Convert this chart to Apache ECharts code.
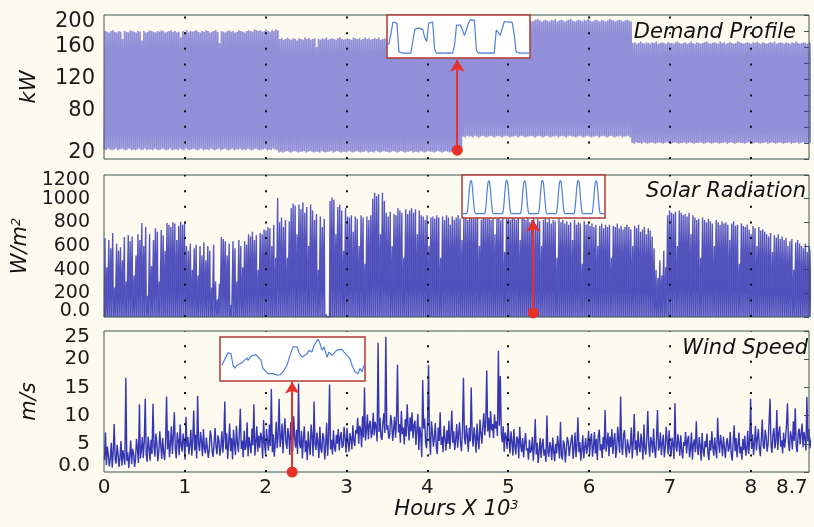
<!DOCTYPE html>
<html><head><meta charset="utf-8">
<script src="https://cdn.jsdelivr.net/npm/echarts@6/dist/echarts.min.js"></script>
<style>html,body{margin:0;padding:0;background:#fdfbf0}#c{width:814px;height:527px}</style>
</head><body><div id="c"></div>
<script>
// ---------- data ----------
// x axis: hours; tick labels shown in thousands
const xTickValues = [0,1000,2000,3000,4000,5000,6000,7000,8000,8700];
const demandTicks = [20,80,120,160,200];
const solarTicks = [0,200,400,600,800,1000,1200];
const windTicks = [0,5,10,15,20,25];

// daily peak demand (kW), one per day
const demandHigh = [
180,179,178,180,181,179,178,180,179,170,180,179,178,181,180,179,178,180,179,168,
180,178,179,181,180,179,178,180,179,181,180,178,179,180,181,179,180,178,179,172,
180,179,181,178,180,179,180,181,179,178,180,179,181,180,178,179,180,181,179,165,
180,179,178,180,181,179,180,178,179,181,180,179,178,180,181,180,179,182,181,180,
181,179,180,182,180,179,181,180,182,181,
170,171,169,170,172,170,169,171,170,168,171,170,169,172,170,171,169,170,171,160,
170,169,171,170,172,169,170,171,170,169,171,172,170,169,170,171,170,169,172,171,
170,171,169,170,172,170,171,169,170,171,170,172,169,170,171,170,169,171,170,172,
171,170,169,171,170,172,170,169,171,170,170,171,169,172,170,171,170,169,171,170,
171,170,172,169,170,171,170,169,171,170,172,170,169,171,170,
193,194,192,193,195,193,192,194,193,192,194,193,195,192,193,194,193,192,194,193,
193,192,194,195,193,192,193,194,192,193,195,193,192,194,193,192,193,194,195,193,
192,193,194,193,192,194,193,195,192,193,194,193,192,193,194,195,193,192,193,194,
193,192,194,193,195,193,192,193,194,193,192,194,193,192,193,195,194,193,192,193,
194,193,192,193,194,193,192,
165,166,164,165,167,165,164,166,165,164,166,165,167,164,165,166,165,164,166,165,
165,164,166,167,165,164,165,166,164,165,167,165,164,166,165,164,165,166,167,165,
164,165,166,165,164,167,165,166,164,165,166,165,164,165,167,166,165,164,165,166,
165,164,166,165,167,165,164,166,165,164,165,166,165,167,164,165,166,165,164,166,
165,164,166,165,167,165,164,165,166,165,164,166,165];
// daily night-time demand (kW)
const demandLow = [
32,31,33,32,31,32,33,31,32,33,32,31,32,33,31,32,31,32,33,31,
32,33,31,32,32,31,33,32,31,32,33,32,31,32,33,31,32,32,31,33,
32,31,33,32,31,32,33,32,31,32,33,31,32,32,31,33,32,31,32,33,
31,32,33,32,31,32,33,31,32,32,33,31,32,31,33,32,31,32,33,32,
31,32,32,33,31,32,31,33,32,31,
28,29,28,29,30,29,28,29,30,29,28,29,29,30,28,29,30,29,28,29,
29,28,30,29,28,29,29,30,28,29,30,29,28,29,29,28,30,29,28,29,
30,29,28,29,29,30,28,29,29,28,30,29,28,29,30,29,29,28,29,30,
29,28,29,30,29,28,29,29,30,28,29,29,28,30,29,28,29,30,29,29,
28,29,30,29,28,29,30,29,28,29,29,30,28,29,29,
48,47,49,48,48,47,49,48,47,48,49,48,47,48,49,48,47,48,49,48,
47,48,49,48,47,48,48,49,47,48,49,48,47,48,48,49,48,47,48,49,
48,47,48,49,48,47,48,48,49,47,48,49,48,47,48,49,48,48,47,48,
49,48,47,48,49,48,47,48,48,49,47,48,49,48,47,48,49,48,47,48,
48,49,47,48,48,49,47,
40,39,41,40,40,39,41,40,39,40,41,40,39,40,41,40,39,40,41,40,
39,40,41,40,39,40,40,41,39,40,41,40,39,40,40,41,40,39,40,41,
40,39,40,41,40,39,40,40,41,39,40,41,40,39,40,41,40,40,39,40,
41,40,39,40,41,40,39,40,40,41,39,40,41,40,39,40,41,40,39,40,
40,41,39,40,40,41,39,40,41,40,39,40,40];

// daily peak solar radiation (W/m2)
const solarPeak = [
668,420,650,580,710,250,620,560,590,480, 676,300,693,640,680,350,520,700,650,795,
600,760,180,700,430,650,750,720,300,735, 690,560,795,780,760,800,790,650,770,805,
780,795,600,560,620,400,580,610,350,600, 520,630,480,600,560,250,610,300,150,280,
676,660,640,520,620,100,640,580,300,650, 600,420,640,610,700,680,720,650,690,400,
710,700,740,730,760,750,600,780,500,1006, 800,840,760,820,500,810,920,960,940,700,
950,910,970,880,930,600,950,900,820,870, 400,850,760,830,20,10,980,1010,990,700,
930,950,900,560,920,850,840,860,720,850, 830,600,860,840,450,850,820,860,1000,1050,
1020,1040,700,1050,980,880,850,890,600,870, 860,920,900,880,500,910,870,900,920,880,
910,700,900,860,850,820,860,600,840,850, 830,860,840,500,850,820,860,840,780,850,
820,840,860,830,650,850,840,820,860,840, 830,850,840,600,820,850,840,830,860,820,
840,700,830,850,820,840,550,830,850,820, 840,830,820,850,650,840,830,820,840,800,
820,840,780,830,810,600,820,840,800,830, 790,820,810,500,830,800,820,790,810,780,
800,650,820,780,800,790,450,810,780,790, 770,790,760,780,600,770,790,750,780,760,
780,500,770,760,790,750,770,740,760,780, 760,740,600,770,750,780,720,740,760,700,
750,730,680,580,400,330,480,350,560,420, 860,900,880,870,890,600,900,880,860,870,
850,880,700,860,840,820,830,500,840,820, 800,830,810,790,600,820,800,780,810,790,
800,780,650,790,810,770,780,450,790,770, 760,780,740,700,770,750,600,760,730,740,
720,700,680,710,550,690,670,700,660,680, 650,670,600,640,660,400,630,650,620,600,
580,620,550,600,570];

// wind speed (m/s), two readings per day
const windSpeed = [
2.1,7.0,1.2,4.5,3.0,1.0,2.4,5.2,0.8,3.6,8.5,2.2,1.5,4.8,3.2,0.9,2.6,5.5,1.1,3.9,
4.2,1.3,16.7,2.0,3.5,0.7,2.8,5.6,1.4,4.1,3.3,0.9,2.2,5.9,4.0,1.6,12.0,2.4,3.8,6.2,
2.5,5.4,13.0,3.1,1.8,6.3,4.4,2.0,5.7,3.2,12.1,4.6,2.7,6.8,5.1,1.9,3.6,7.2,4.8,2.3,
6.0,3.4,2.1,5.5,13.4,4.0,7.3,2.6,5.0,8.1,3.2,6.4,10.6,4.1,2.4,7.0,5.6,3.0,8.4,4.7,
3.6,6.8,5.1,2.2,9.8,4.5,6.2,3.1,4.8,7.5,2.9,5.8,10.9,3.8,6.6,2.4,13.5,5.0,3.7,7.1,
5.4,2.8,7.6,4.2,3.3,6.1,5.8,2.5,4.0,7.4,6.3,3.6,2.7,5.2,7.8,4.4,3.1,6.5,5.5,2.9,
4.6,7.2,3.4,5.9,12.5,4.0,6.8,2.3,5.1,8.6,3.7,6.0,2.2,7.5,4.9,3.0,8.2,5.3,3.5,6.7,
11.2,4.1,5.6,2.6,7.3,3.9,4.5,8.8,2.8,6.2,5.9,3.3,7.7,4.7,12.0,2.9,5.2,8.1,3.6,6.4,
4.3,7.0,6.1,2.4,9.2,5.0,3.1,7.6,5.5,3.8,8.4,4.6,14.7,3.5,6.7,2.7,5.0,8.9,4.2,6.5,
13.0,4.4,6.0,8.6,3.3,7.1,9.5,5.2,4.1,7.8,6.4,3.0,8.8,5.6,3.7,9.9,6.2,4.3,7.5,3.2,
15.7,5.1,4.2,7.3,2.4,6.0,8.1,3.5,5.6,2.1,7.2,4.6,3.0,8.4,6.3,2.8,12.5,5.0,3.9,7.0,
5.2,2.5,8.0,4.1,3.4,6.9,6.1,2.2,4.8,8.7,2.9,6.3,15.5,4.0,5.7,3.1,7.4,4.4,3.6,6.6,
5.0,7.6,3.8,6.2,7.1,4.3,4.7,8.0,6.0,3.4,7.8,5.3,3.6,6.9,5.9,4.0,8.3,5.5,4.6,7.5,
6.8,9.6,5.0,8.2,7.6,4.4,9.9,6.1,15.0,5.6,7.3,10.2,5.8,8.4,9.1,6.0,7.0,10.5,6.5,8.9,
8.0,5.4,22.9,7.1,9.6,6.2,5.7,8.8,10.4,6.9,24.0,7.5,8.3,5.9,6.6,10.1,9.0,5.5,7.4,9.8,
6.1,9.3,19.0,7.0,8.5,5.2,10.8,6.7,7.9,4.9,9.4,6.3,12.0,8.1,5.6,9.7,7.2,10.6,6.0,8.3,
9.1,4.8,7.5,10.3,3.9,8.0,6.6,2.6,16.3,7.7,9.5,5.1,4.2,8.6,19.0,6.4,3.0,9.0,7.1,4.5,
6.0,8.7,4.4,3.2,7.9,5.5,10.6,4.8,6.3,3.5,8.2,5.9,3.8,7.4,5.0,9.1,4.1,6.7,10.9,5.2,
7.2,3.9,5.6,8.5,4.3,6.9,8.8,5.1,3.7,7.6,16.7,6.0,4.9,8.3,6.4,3.6,7.8,5.4,15.0,6.6,
4.5,7.9,6.2,3.4,8.6,5.7,4.0,9.3,6.9,5.0,8.1,10.4,6.5,8.8,18.0,7.2,9.6,6.1,10.8,7.4,
8.5,6.0,10.2,7.7,9.0,6.4,21.5,8.2,17.0,6.8,5.3,8.1,3.6,7.0,6.2,4.1,8.6,5.5,3.3,7.2,
5.4,2.9,7.6,4.5,3.1,6.3,5.8,2.4,8.0,4.7,3.5,6.0,2.6,5.1,6.9,3.8,4.2,2.2,5.7,3.4,
3.9,6.2,2.0,4.6,9.4,3.1,5.2,1.6,3.6,6.0,2.5,4.8,5.9,2.9,4.0,1.8,10.0,3.5,2.7,5.3,
4.4,2.1,6.1,3.7,1.9,5.0,3.3,6.4,4.7,2.4,8.9,3.0,2.2,5.6,4.9,1.7,3.8,6.2,5.4,2.8,
3.1,5.8,6.6,2.3,4.2,7.0,2.6,4.9,9.7,3.5,5.3,2.0,3.9,6.5,2.4,4.4,6.0,3.2,4.7,7.3,
3.0,5.6,6.8,2.7,4.5,7.1,3.3,5.9,2.1,6.4,7.5,3.8,4.9,2.5,6.2,4.0,11.0,3.6,5.1,7.0,
2.8,6.3,4.4,7.6,3.2,5.5,6.9,2.5,4.1,8.0,5.7,3.4,13.4,4.6,3.0,6.7,7.4,4.2,2.6,5.8,
6.1,3.3,4.8,7.9,2.4,5.4,10.3,3.9,5.6,2.9,7.2,4.5,3.5,6.8,5.0,2.2,8.4,4.1,3.1,6.0,
10.8,4.7,2.7,6.2,5.3,3.4,7.7,4.0,2.5,5.9,11.0,3.8,4.6,7.0,3.0,5.1,6.6,2.6,4.3,8.0,
5.5,3.1,7.4,4.2,2.8,6.1,4.9,2.3,12.2,4.4,3.6,6.7,5.2,2.9,6.5,3.7,2.4,5.3,4.6,7.1,
3.3,5.7,6.4,2.6,4.1,7.0,2.2,5.0,5.8,3.5,9.0,4.3,3.0,6.2,4.7,2.0,6.9,3.9,2.7,5.5,
4.4,6.8,3.2,2.1,5.6,3.8,7.2,4.5,2.9,6.1,4.0,2.4,9.6,5.3,3.4,6.6,5.0,2.8,6.3,4.2,
2.5,5.1,6.0,3.6,4.3,7.1,3.1,2.0,5.4,8.3,3.7,6.0,2.6,4.8,7.0,3.3,4.5,2.2,5.9,3.9,
6.4,2.9,4.0,7.3,3.2,5.5,13.0,4.1,6.7,3.0,5.2,8.2,3.8,6.0,7.6,4.4,2.8,5.8,9.3,4.6,
4.1,7.5,6.2,3.6,5.0,8.8,13.0,4.8,3.4,6.6,7.8,4.2,5.4,11.0,3.9,6.9,8.1,4.5,5.6,3.3,
7.0,4.3,5.8,8.5,12.2,5.1,3.7,7.2,6.3,4.0,9.0,5.5,11.3,4.6,3.5,6.8,7.7,4.9,5.2,8.6,
4.4,7.1,6.0,3.8,13.3,5.4,7.6,4.2,3.9,6.5];

// zoomed insets
const demandInset = [60,70,120,176,176,170,30,24,24,25,24,24,24,30,140,146,146,146,140,100,80,170,176,176,
40,24,24,25,24,24,24,25,24,24,60,161,161,161,158,110,103,170,186,186,184,40,24,24,
25,24,24,24,25,24,24,137,137,110,103,176,176,176,176,174,120,30,24,24,25,24,24,24,24];
const solarInset = [
0,0,0,0,0,0,0,30,180,430,680,850,900,860,700,460,210,50,0,0,0,0,0,0,
0,0,0,0,0,0,0,25,170,420,670,840,895,850,690,450,200,45,0,0,0,0,0,0,
0,0,0,0,0,0,0,30,185,440,690,860,905,865,705,465,215,50,0,0,0,0,0,0,
0,0,0,0,0,0,0,28,175,425,675,845,890,855,695,455,205,48,0,0,0,0,0,0,
0,0,0,0,0,0,0,32,182,435,685,855,902,862,702,462,212,52,0,0,0,0,0,0,
0,0,0,0,0,0,0,27,178,428,678,848,898,858,698,458,208,47,0,0,0,0,0,0,
0,0,0,0,0,0,0,30,180,432,682,852,900,860,700,460,210,50,0,0,0,0,0,0,
0,0,0,0,0,0,0,29,176,426,676,846,893,853,693,453,203,46,0,0,0,0,0,0];
const windInsetHours = [2,5,8,11,13,15,17,20,23,27,28,31,33,36,38,41,43,45,48,50,53,57,60,63,67,70,73,77,79,82,
84,87,89,92,94,98,100,102,104,107,109,112,114,117,119,122,124,127,130,132,135,138,140,142,144];
const windInsetSpeed = [4.3,6.1,7.7,7.4,4.3,3.5,4.3,4.7,5.2,6.3,5.6,6.8,6.3,7.2,7.0,5.6,3.4,2.9,2.0,1.6,2.0,1.6,1.7,2.5,4.3,7.0,9.3,9.3,7.7,6.5,
7.0,7.4,8.4,7.9,9.7,11.4,10.2,8.4,9.3,6.5,7.9,7.0,7.4,8.4,8.8,8.6,7.9,7.0,6.1,4.3,2.5,2.0,3.4,2.5,4.3];

// arrows: position (hours) and start/end values in each panel
const arrowHours = [4369, 5309, 2327];
const arrowFrom = [31, 34, 0];
const arrowTo = [144, 820, 16];
const gridHours = [1000,2000,3000,4000,5000,6000,7000,8000];

// ---------- build series data ----------
const demandData = [];
demandHigh.forEach((h, d) => { demandData.push([d*24+4, demandLow[d]]); demandData.push([d*24+14, h]); });
const solarData = [];
solarPeak.forEach((p, d) => { solarData.push([d*24+5, 0]); solarData.push([d*24+12, p]); solarData.push([d*24+19, 0]); });
const windData = windSpeed.map((v, i) => [i*12+6, v]);
const demandInsetData = demandInset.map((v, i) => [i, v]);
const solarInsetData = solarInset.map((v, i) => [i, v]);
const windInsetData = windInsetHours.map((h, i) => [h, windInsetSpeed[i]]);

const FONT = 'DejaVu Sans';
const BOX = '#3f5555';
const INSET = '#b03a36';
const TXT = '#1a1a1a';

const nameStyle = {fontFamily:FONT, fontSize:21, fontStyle:'italic', color:'#111',
  rich:{b:{fontFamily:FONT,fontSize:21,fontStyle:'italic',color:'#111'},
        s:{fontFamily:FONT,fontSize:13,fontStyle:'italic',color:'#111',verticalAlign:'top',padding:[0,0,6,0]}}};

const mainGrid = (top, h) => ({left:104, top:top, width:705, height:h, show:true, borderColor:BOX, borderWidth:1, backgroundColor:'transparent', z:3, containLabel:false, outerBoundsMode:'none'});
const insetGrid = (l, t, w, h) => ({left:l, top:t, width:w, height:h, show:true, backgroundColor:'#ffffff', borderColor:INSET, borderWidth:1.5, z:10, containLabel:false, outerBoundsMode:'none'});

const hiddenX = (gi, mn, mx) => ({type:'value', gridIndex:gi, min:mn, max:mx, show:false});
const hiddenY = (gi, mn, mx) => ({type:'value', gridIndex:gi, min:mn, max:mx, show:false});
const mainX = (gi, labels) => ({type:'value', gridIndex:gi, min:0, max:8720, position:'bottom',
  axisLine:{show:false}, axisTick:{show:false}, splitLine:{show:false},
  axisLabel: labels ? {show:true, customValues:xTickValues, showMinLabel:true, showMaxLabel:true, fontFamily:FONT, fontSize:20, color:TXT, margin:6,
     formatter: v => v===8700 ? '{r|8.7}' : String(v/1000),
     rich:{r:{fontFamily:FONT,fontSize:20,color:TXT,padding:[0,31,0,0]}}} : {show:false},
  name: labels ? '{b|Hours X 10}{s|3}' : '', nameLocation:'middle', nameGap:27, nameTextStyle:nameStyle});
// main y axis: inner tick labels + axis name
const mainY = (gi, mn, mx, ticks, size, margin, fmt, name) => ({type:'value', gridIndex:gi, min:mn, max:mx, position:'left', offset:0,
  axisLine:{show:false}, axisTick:{show:false}, splitLine:{show:false},
  axisLabel:{show:true, customValues:ticks.slice(1,-1), fontFamily:FONT, fontSize:size, color:TXT, margin:margin, formatter:fmt},
  name:name, nameLocation:'middle', nameGap:64, nameRotate:90, nameTextStyle:nameStyle});
// end-label axis: end labels sit slightly inside the frame, as in the original figure
const endY = (gi, mn, mx, ticks, size, margin, fmt) => ({type:'value', gridIndex:gi, min:mn, max:mx, position:'left', offset:0,
  axisLine:{show:false}, axisTick:{show:false}, splitLine:{show:false},
  axisLabel:{show:true, customValues:[ticks[0], ticks[ticks.length-1]], showMinLabel:true, showMaxLabel:true,
    fontFamily:FONT, fontSize:size, color:TXT, margin:margin, formatter:fmt}});
const mirrorY = (gi, mn, mx, iv) => ({type:'value', gridIndex:gi, min:mn, max:mx, interval:iv, position:'right', offset:0,
  axisLine:{show:false}, axisLabel:{show:false}, splitLine:{show:false},
  axisTick:{show:true, inside:true, length:5, lineStyle:{color:BOX}}});

const dotLines = gi => ({type:'line', xAxisIndex:gi, yAxisIndex:gi, data:[], silent:true, z:20,
  markLine:{silent:true, symbol:'none', animation:false, label:{show:false},
    lineStyle:{type:[2,13.6], color:'#111', width:2},
    data: gridHours.map(h => ({xAxis:h}))}});
const arrow = (gi, k) => ({type:'line', xAxisIndex:gi, yAxisIndex:gi, data:[], silent:true, z:15,
  markLine:{silent:true, symbol:['circle','arrow'], symbolSize:[11,12], animation:false, label:{show:false},
    lineStyle:{type:'solid', color:'#e8302c', width:2},
    itemStyle:{color:'#e8302c'},
    data:[[{coord:[arrowHours[k], arrowFrom[k]]},{coord:[arrowHours[k], arrowTo[k]]}]]}});

const fmtPlain = v => String(v);
const fmtZero = v => v===0 ? '0.0' : String(v);

const option = {
  backgroundColor:'#fdfbf0',
  animation:false,
  title:[
    {text:'Demand Profile', right:18, top:22, padding:0, textStyle:{fontFamily:FONT,fontSize:21,fontStyle:'italic',fontWeight:'normal',color:'#111'}},
    {text:'Solar Radiation', right:8, top:181, padding:0, textStyle:{fontFamily:FONT,fontSize:21,fontStyle:'italic',fontWeight:'normal',color:'#111'}},
    {text:'Wind Speed', right:6, top:338, padding:0, textStyle:{fontFamily:FONT,fontSize:21,fontStyle:'italic',fontWeight:'normal',color:'#111'}}
  ],
  grid:[
    mainGrid(15,144), mainGrid(175,142), mainGrid(331,141),
    insetGrid(387,15,143,43), insetGrid(462,175,143,43), insetGrid(220,337,145,44)
  ],
  xAxis:[
    mainX(0,false), mainX(1,false), mainX(2,true),
    hiddenX(3,0,72), hiddenX(4,0,192), hiddenX(5,0,145)
  ],
  yAxis:[
    mainY(0,20,200,demandTicks,21,9,fmtPlain,'kW'),
    mainY(1,0,1200,solarTicks,19,14,fmtZero,'{b|W/m}{s|2}'),
    mainY(2,0,25,windTicks,20,14,fmtZero,'m/s'),
    hiddenY(3,0,210), hiddenY(4,-120,1050), hiddenY(5,0,12),
    mirrorY(0,20,200,20), mirrorY(1,0,1200,200), mirrorY(2,0,25,5),
    endY(0,11.8,209.6,demandTicks,21,9,fmtPlain),
    endY(1,-55,1246,solarTicks,19,14,fmtZero),
    endY(2,-1.16,26.16,windTicks,20,14,fmtZero)
  ],
  series:[
    {type:'line', xAxisIndex:0, yAxisIndex:0, data:demandData, symbol:'none', z:2, silent:true,
     lineStyle:{color:'rgba(66,66,198,0.58)', width:1.7}},
    {type:'line', xAxisIndex:1, yAxisIndex:1, data:solarData, symbol:'none', z:2, silent:true,
     lineStyle:{color:'rgba(48,48,178,0.8)', width:1.4},
     areaStyle:{color:'rgba(60,60,190,0.45)'}},
    {type:'line', xAxisIndex:2, yAxisIndex:2, data:windData, symbol:'none', z:2, silent:true,
     lineStyle:{color:'#3636b2', width:1.4}},
    {type:'line', xAxisIndex:3, yAxisIndex:3, data:demandInsetData, symbol:'none', z:11, silent:true,
     lineStyle:{color:'#4f7fdc', width:1.2}},
    {type:'line', xAxisIndex:4, yAxisIndex:4, data:solarInsetData, symbol:'none', z:11, silent:true, smooth:0.3,
     lineStyle:{color:'#4f7fdc', width:1.2}},
    {type:'line', xAxisIndex:5, yAxisIndex:5, data:windInsetData, symbol:'none', z:11, silent:true,
     lineStyle:{color:'#4f7fdc', width:1.2}},
    dotLines(0), dotLines(1), dotLines(2),
    arrow(0,0), arrow(1,1), arrow(2,2)
  ]
};
const chart = echarts.init(document.getElementById('c'), null, {renderer:'canvas'});
chart.setOption(option);
</script>
</body></html>
